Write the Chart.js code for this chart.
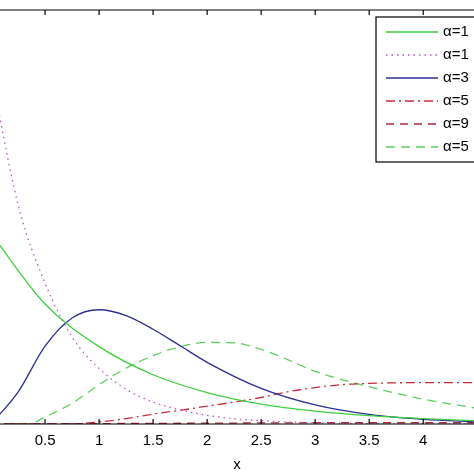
<!DOCTYPE html>
<html><head><meta charset="utf-8">
<script src="https://cdn.jsdelivr.net/npm/chart.js@4"></script>
<style>body{margin:0;background:#fff}#wrap{width:474px;height:474px}</style>
</head><body><div id="wrap"><canvas id="c"></canvas></div>
<script>
// curve values
const greenX = [0, 0.5, 1, 1.5, 2, 2.5, 3, 3.5, 4, 4.5];
const greenY = [0.46, 0.29, 0.187, 0.119, 0.076, 0.048, 0.031, 0.02, 0.013, 0.008];
const pinkX = [0, 0.25, 0.5, 0.75, 1, 1.25, 1.5, 2, 2.5, 3, 3.5, 4, 4.5];
const pinkY = [0.85, 0.53, 0.34, 0.21, 0.134, 0.084, 0.053, 0.021, 0.008, 0.003, 0.001, 0, 0];
const blueX = [0, 0.25, 0.5, 0.75, 1, 1.25, 1.5, 1.75, 2, 2.5, 3, 3.5, 4, 4.5];
const blueY = [0, 0.077, 0.188, 0.256, 0.276, 0.262, 0.229, 0.189, 0.149, 0.086, 0.046, 0.023, 0.011, 0.005];
const dashDotX = [0, 0.75, 1, 1.25, 1.5, 1.75, 2, 2.25, 2.5, 2.75, 3, 3.25, 3.5, 4, 4.5];
const dashDotY = [0, 0, 0.005, 0.013, 0.024, 0.033, 0.043, 0.053, 0.064, 0.078, 0.088, 0.095, 0.098, 0.1, 0.1];
const redDashX = [0, 1, 2, 3, 4, 4.5];
const redDashY = [0, 0.001, 0.002, 0.003, 0.003, 0.003];
const greenDashX = [0, 0.35, 0.5, 0.75, 1, 1.25, 1.5, 1.75, 2, 2.25, 2.5, 2.75, 3, 3.5, 4, 4.5];
const greenDashY = [0, 0, 0.017, 0.05, 0.095, 0.135, 0.165, 0.187, 0.197, 0.196, 0.18, 0.155, 0.127, 0.09, 0.06, 0.038];
const labels = ['α=1', 'α=1', 'α=3', 'α=5', 'α=9', 'α=5'];
const xTicks = [0.5, 1, 1.5, 2, 2.5, 3, 3.5, 4];

function pts(xs, ys){ return xs.map((x, i) => ({x: x, y: ys[i]})); }

const styles = [
  {c:'#3fcf3f', d:[]},
  {c:'#c050c8', d:[1.5,4]},
  {c:'#2b2f95', d:[]},
  {c:'#c82a3a', d:[9,4,2,4]},
  {c:'#b02a3a', d:[8,6]},
  {c:'#5ccf5c', d:[9,6]}
];
const series = [pts(greenX, greenY), pts(pinkX, pinkY), pts(blueX, blueY),
  pts(dashDotX, dashDotY), pts(redDashX, redDashY), pts(greenDashX, greenDashY)];

const frame = {
  id: 'frame',
  afterDraw(chart){
    const ctx = chart.ctx, a = chart.chartArea, xs = chart.scales.x;
    ctx.save();
    ctx.strokeStyle = '#000'; ctx.lineWidth = 1.2; ctx.setLineDash([]);
    ctx.beginPath();
    ctx.moveTo(a.left, a.top); ctx.lineTo(a.right, a.top);
    ctx.moveTo(a.left, a.bottom); ctx.lineTo(a.right, a.bottom);
    xTicks.forEach(v => {
      const p = xs.getPixelForValue(v);
      ctx.moveTo(p, a.bottom); ctx.lineTo(p, a.bottom - 5);
      ctx.moveTo(p, a.top); ctx.lineTo(p, a.top + 5);
    });
    ctx.stroke();
    // legend
    const lx = 376, ly = 17, lh = 145;
    ctx.fillStyle = '#fff';
    ctx.fillRect(lx, ly, 120, lh);
    ctx.strokeRect(lx, ly, 120, lh);
    ctx.font = '15px "Liberation Sans", Arial, sans-serif';
    ctx.textBaseline = 'middle';
    labels.forEach((t, i) => {
      const y = ly + 15 + i * 23;
      ctx.strokeStyle = styles[i].c; ctx.lineWidth = 1.3;
      ctx.setLineDash(styles[i].d);
      ctx.beginPath(); ctx.moveTo(386, y); ctx.lineTo(438, y); ctx.stroke();
      ctx.fillStyle = '#000';
      ctx.fillText(t, 443, y);
    });
    ctx.restore();
  }
};

new Chart(document.getElementById('c'), {
  type: 'line',
  data: {
    datasets: series.map((d, i) => ({
      label: labels[i], data: d, borderColor: styles[i].c, borderDash: styles[i].d,
      borderWidth: 1.3, pointRadius: 0, tension: 0.4, cubicInterpolationMode: 'monotone', fill: false
    }))
  },
  options: {
    responsive: true, maintainAspectRatio: false, animation: false,
    layout: {padding: {top: 10, left: 0, right: 0, bottom: 0}},
    plugins: {legend: {display: false}, tooltip: {enabled: false}},
    scales: {
      x: {
        type: 'linear', min: 0.083, max: 4.47,
        afterBuildTicks: s => { s.ticks = xTicks.map(v => ({value: v})); },
        ticks: {color: '#000', font: {size: 15, family: '"Liberation Sans", Arial'}, maxRotation: 0,
          padding: 8, callback: v => String(v)},
        grid: {display: false, tickLength: 0},
        border: {display: false},
        title: {display: true, text: 'x', color: '#000', padding: {top: -2, bottom: 0},
          font: {size: 15, family: '"Liberation Sans", Arial'}}
      },
      y: {display: false, min: 0, max: 1}
    }
  },
  plugins: [frame]
});
</script></body></html>
